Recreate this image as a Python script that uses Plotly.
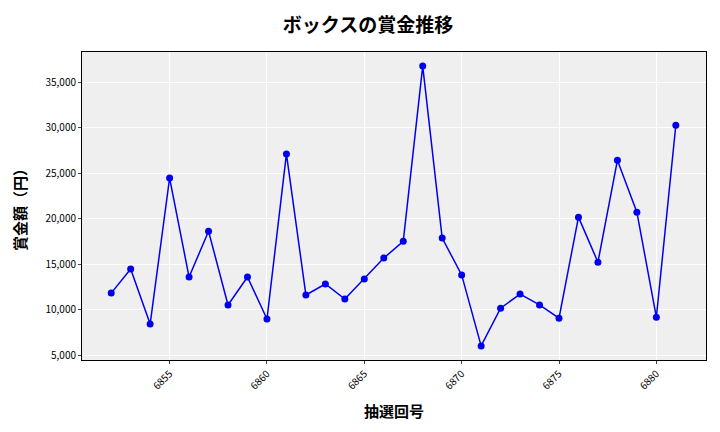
import plotly.graph_objects as go

draws = list(range(6852, 6882))
prizes = [11800, 14450, 8400, 24450, 13570, 18600, 10500, 13570, 8950, 27100,
          11600, 12800, 11150, 13350, 15650, 17500, 36750, 17850, 13800, 6000,
          10150, 11700, 10500, 9050, 20150, 15200, 26400, 20700, 9150, 30250]

fig = go.Figure(go.Scatter(x=draws, y=prizes, mode="lines+markers",
                           line=dict(color="#0000ee", width=1.5),
                           marker=dict(color="#0000ee", size=7)))
font = "Noto Sans CJK JP"
fig.update_layout(
    width=720, height=432,
    margin=dict(l=72, r=22, t=44, b=80),
    paper_bgcolor="white", plot_bgcolor="#efefef",
    font=dict(family=font, color="black", size=10),
    title=dict(text="<b>ボックスの賞金推移</b>", x=0.5, xanchor="center", y=0.975, yanchor="top",
               font=dict(size=19, family=font)),
    showlegend=False,
)
fig.update_xaxes(range=[6850.5, 6882.55], tickvals=[6855, 6860, 6865, 6870, 6875, 6880],
                 tickangle=-45, gridcolor="white", showline=True, linecolor="black",
                 linewidth=1, mirror=True, ticks="outside", ticklen=3,
                 title=dict(text="<b>抽選回号</b>", font=dict(size=15)), zeroline=False)
fig.update_yaxes(range=[4450, 38300], tickvals=[5000, 10000, 15000, 20000, 25000, 30000, 35000],
                 tickformat=",d", gridcolor="white", showline=True, linecolor="black",
                 linewidth=1, mirror=True, ticks="outside", ticklen=3,
                 title=dict(text="<b>賞金額（円）</b>", font=dict(size=15)), zeroline=False)
fig.write_html("out.html")
